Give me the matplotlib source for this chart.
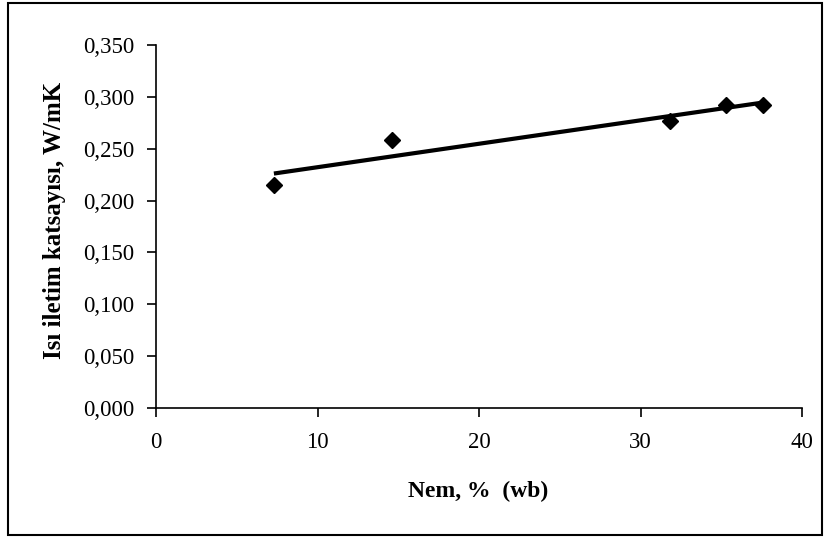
import numpy as np
import matplotlib as mpl; mpl.use('Agg')
import matplotlib.pyplot as plt
from matplotlib.patches import Rectangle
from matplotlib.ticker import FuncFormatter

mpl.rcParams.update({'font.family': 'serif', 'font.serif': ['Liberation Serif', 'DejaVu Serif']})

nem = [7.3, 14.6, 31.8, 35.3, 37.6]
isi = [0.215, 0.258, 0.277, 0.292, 0.292]
x_ticks = [0, 10, 20, 30, 40]
y_ticks = [0.0, 0.05, 0.10, 0.15, 0.20, 0.25, 0.30, 0.35]

W, H = 824, 540
fig = plt.figure(figsize=(W/100, H/100), dpi=100)
ax = fig.add_axes([156/W, 1-408/H, (802-156)/W, (408-45)/H])

# linear trend line
k, b = np.polyfit(nem, isi, 1)
xl = np.array([min(nem), max(nem)])
ax.plot(xl, k*xl + b, color='black', lw=3, solid_capstyle='butt', zorder=2)
ax.plot(nem, isi, ls='none', marker='D', ms=8.3, color='black', zorder=3)

ax.set_xlim(0, 40); ax.set_ylim(0, 0.35)
ax.set_xticks(x_ticks); ax.set_yticks(y_ticks)
ax.yaxis.set_major_formatter(FuncFormatter(lambda v, p: f'{v:.3f}'.replace('.', ',')))
for s in ['top', 'right']:
    ax.spines[s].set_visible(False)
for s in ['left', 'bottom']:
    ax.spines[s].set_linewidth(1.2)
ax.tick_params(direction='out', length=6.5, width=1.2, labelsize=16.5)
ax.tick_params(axis='y', pad=9)
ax.tick_params(axis='x', pad=11)

fig.text(478/W, 1-491/H, 'Nem, %  (wb)', fontsize=17, fontweight='bold', ha='center', va='center')
fig.text(54/W, 1-220/H, 'Isı iletim katsayısı, W/mK', fontsize=18, fontweight='bold',
         rotation=90, ha='center', va='center')

fig.patches.append(Rectangle((8/W, 1-535/H), (822-8)/W, (535-3)/H, transform=fig.transFigure,
                             fill=False, ec='black', lw=1.5))

fig.savefig('out.png', dpi=100)
